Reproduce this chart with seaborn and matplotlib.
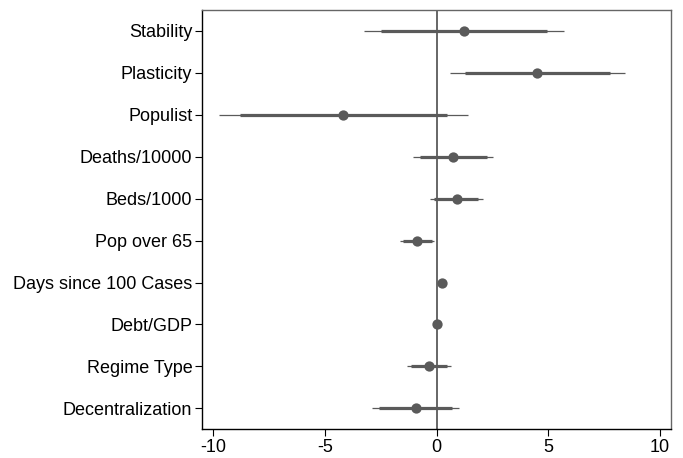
import matplotlib
matplotlib.use("Agg")
import matplotlib.pyplot as plt
import seaborn as sns
import pandas as pd

variables = ["Stability", "Plasticity", "Populist", "Deaths/10000", "Beds/1000",
             "Pop over 65", "Days since 100 Cases", "Debt/GDP", "Regime Type",
             "Decentralization"]
coef = [1.22, 4.52, -4.17, 0.75, 0.90, -0.87, 0.24, 0.03, -0.34, -0.94]
ci90_lo = [-2.49, 1.27, -8.81, -0.75, -0.10, -1.52, 0.17, -0.02, -1.15, -2.58]
ci90_hi = [4.97, 7.79, 0.49, 2.24, 1.88, -0.22, 0.31, 0.08, 0.46, 0.69]
ci95_lo = [-3.25, 0.60, -9.73, -1.05, -0.30, -1.63, 0.15, -0.04, -1.31, -2.88]
ci95_hi = [5.70, 8.45, 1.42, 2.54, 2.09, -0.10, 0.33, 0.10, 0.63, 1.00]
xticks = [-10, -5, 0, 5, 10]

df = pd.DataFrame({"var": variables, "coef": coef,
                   "lo90": ci90_lo, "hi90": ci90_hi,
                   "lo95": ci95_lo, "hi95": ci95_hi})
df["pos"] = range(len(df))

sns.set_style("white")
plt.rcParams["font.family"] = ["Liberation Sans", "DejaVu Sans"]

fig = plt.figure(figsize=(6.83, 4.58), dpi=100)
ax = fig.add_axes([0.2958, 0.0627, 0.6866, 0.9155])

col = "#5a5a5a"
ax.axvline(0, color=col, lw=1.3, zorder=1)
ax.hlines(df["pos"], df["lo95"], df["hi95"], color=col, lw=0.9, zorder=2)
ax.hlines(df["pos"], df["lo90"], df["hi90"], color=col, lw=2.3, zorder=3)
sns.scatterplot(data=df, x="coef", y="pos", ax=ax, color=col, s=55,
                edgecolor=col, linewidth=0, zorder=4, legend=False)

ax.set_xlim(-10.5, 10.5)
ax.set_ylim(len(df) - 0.5, -0.5)
ax.set_yticks(df["pos"])
ax.set_yticklabels(variables)
ax.set_xticks(xticks)
ax.set_xticklabels([str(t) for t in xticks])
ax.set_xlabel("")
ax.set_ylabel("")
ax.tick_params(axis="both", which="both", length=5, width=0.8, color="black",
               labelsize=13, labelcolor="black", pad=2, direction="out",
               left=True, bottom=True)
for s in ["left", "bottom"]:
    ax.spines[s].set_color("black")
    ax.spines[s].set_linewidth(1.0)
for s in ["top", "right"]:
    ax.spines[s].set_color("#666666")
    ax.spines[s].set_linewidth(1.0)

fig.savefig("out.png", dpi=100)
